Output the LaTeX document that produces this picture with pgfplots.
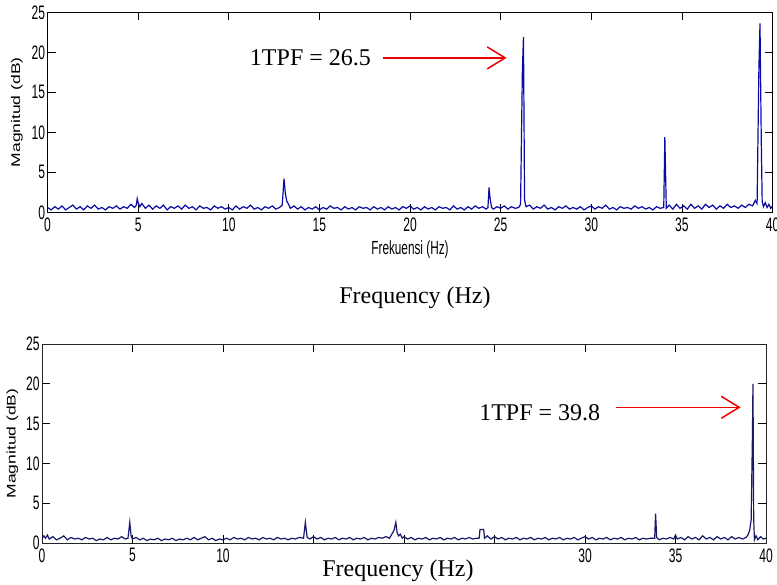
\documentclass[border=0pt]{standalone}
\usepackage{fontspec}
\setmainfont{Liberation Serif}
\newfontfamily\tickfont[FakeStretch=0.62]{Liberation Sans}
\newfontfamily\ylabfont[FakeStretch=1.4]{Liberation Sans}
\usepackage{pgfplots}
\pgfplotsset{compat=1.18}
\usetikzlibrary{arrows.meta}
\definecolor{toplin}{RGB}{10,10,165}
\definecolor{botlin}{RGB}{25,25,105}
\definecolor{arrred}{RGB}{240,0,0}

\pgfplotsset{
  spec/.style={
    scale only axis,
    width=725bp, height=200bp,
    xmin=0, xmax=40, ymin=0, ymax=25,
    xtick={0,5,...,40}, ytick={0,5,...,25},
    tick align=inside,
    major tick length=8bp,
    axis line style={line width=0.8bp},
    every tick/.style={black, line width=0.7bp},
    tick label style={font=\fontsize{19.5bp}{19.5bp}\tickfont},
    /pgf/number format/assume math mode=true,
    xticklabel style={yshift=-2bp},
    yticklabel style={xshift=1bp},
    ylabel style={font=\fontsize{12.5bp}{12.5bp}\ylabfont},
    xlabel style={font=\fontsize{19bp}{19bp}\tickfont},
  }
}

\begin{document}
\begin{tikzpicture}
\path[use as bounding box] (0,0) rectangle (777bp,-585bp);

% upper spectrum
\begin{axis}[spec, at={(47.5bp,-212.3bp)}, anchor=south west,
  ylabel={Magnitud (dB)}, ylabel style={yshift=2bp},
  xlabel={Frekuensi (Hz)}, xlabel style={yshift=-2bp}]
\addplot[toplin, line width=1.2bp] coordinates {
(0.0,0.6) (0.2,0.3) (0.4,0.7) (0.6,0.4) (0.8,0.8) (1.0,0.3) (1.2,0.6) (1.4,0.9)
(1.6,0.4) (1.8,0.7) (2.0,0.3) (2.2,0.8) (2.4,0.5) (2.6,0.9) (2.8,0.4) (3.0,0.6)
(3.2,0.3) (3.4,0.7) (3.6,0.5) (3.8,0.8) (4.0,0.4) (4.2,0.7) (4.4,0.5) (4.6,1.0)
(4.8,0.6) (4.9,0.9) (4.95,1.7) (5.0,1.2) (5.1,0.7) (5.2,1.1) (5.4,0.5) (5.6,0.9)
(5.8,0.4) (6.0,0.8) (6.2,0.5) (6.4,0.9) (6.6,0.3) (6.8,0.7) (7.0,0.5) (7.2,0.8)
(7.4,0.4) (7.6,0.9) (7.8,0.5) (8.0,0.7) (8.2,0.3) (8.4,0.8) (8.6,0.5) (8.8,0.6)
(9.0,0.3) (9.2,0.8) (9.4,0.5) (9.6,0.7) (9.8,0.4) (10.0,0.6) (10.2,0.3) (10.4,0.8)
(10.6,0.4) (10.8,0.7) (11.0,0.5) (11.2,0.9) (11.4,0.4) (11.6,0.6) (11.8,0.3) (12.0,0.7)
(12.2,0.5) (12.4,0.8) (12.6,0.4) (12.8,0.6) (12.95,0.9) (13.05,4.2) (13.12,2.4) (13.2,1.4)
(13.3,1.0) (13.4,0.5) (13.6,0.8) (13.8,0.4) (14.0,0.7) (14.2,0.3) (14.4,0.6) (14.6,0.4)
(14.8,0.7) (15.0,0.3) (15.2,0.6) (15.4,0.4) (15.6,0.8) (15.8,0.5) (16.0,0.6) (16.2,0.3)
(16.4,0.7) (16.6,0.4) (16.8,0.6) (17.0,0.3) (17.2,0.7) (17.4,0.5) (17.6,0.6) (17.8,0.3)
(18.0,0.7) (18.2,0.4) (18.4,0.6) (18.6,0.3) (18.8,0.7) (19.0,0.4) (19.2,0.6) (19.4,0.3)
(19.6,0.7) (19.8,0.5) (20.0,0.8) (20.2,0.4) (20.4,0.6) (20.6,0.3) (20.8,0.7) (21.0,0.4)
(21.2,0.6) (21.4,0.3) (21.6,0.7) (21.8,0.5) (22.0,0.6) (22.2,0.3) (22.4,0.8) (22.6,0.4)
(22.8,0.6) (23.0,0.3) (23.2,0.7) (23.4,0.4) (23.6,0.8) (23.8,0.5) (24.0,0.7) (24.2,0.4)
(24.3,0.6) (24.36,3.1) (24.42,1.7) (24.5,0.6) (24.6,0.4) (24.8,0.7) (25.0,0.5) (25.2,0.8)
(25.4,0.4) (25.6,0.7) (25.8,0.5) (26.0,0.6) (26.1,1.0) (26.2,17.7) (26.26,21.9) (26.32,1.6)
(26.4,0.7) (26.6,0.9) (26.8,0.4) (27.0,0.7) (27.2,0.5) (27.4,0.9) (27.6,0.4) (27.8,0.6)
(28.0,0.3) (28.2,0.7) (28.4,0.5) (28.6,0.8) (28.8,0.4) (29.0,0.6) (29.2,0.4) (29.4,0.7)
(29.6,0.3) (29.8,0.6) (30.0,0.8) (30.2,0.4) (30.4,0.7) (30.6,0.5) (30.8,0.9) (31.0,0.4)
(31.2,0.6) (31.4,0.3) (31.6,0.7) (31.8,0.5) (32.0,0.6) (32.2,0.4) (32.4,0.8) (32.6,0.5)
(32.8,0.7) (33.0,0.4) (33.2,0.6) (33.4,0.3) (33.6,0.7) (33.8,0.5) (34.0,0.6) (34.06,9.4)
(34.1,5.0) (34.14,0.5) (34.3,0.9) (34.5,0.4) (34.7,1.0) (34.9,0.5) (35.1,0.8) (35.3,0.4)
(35.5,1.0) (35.7,0.5) (35.9,0.8) (36.1,0.4) (36.3,1.0) (36.5,0.6) (36.7,0.9) (36.9,0.4)
(37.1,0.8) (37.3,0.5) (37.5,1.0) (37.7,0.6) (37.9,0.8) (38.1,0.5) (38.3,0.9) (38.5,0.6)
(38.7,1.0) (38.9,0.8) (39.05,1.5) (39.15,1.1) (39.25,18.1) (39.31,23.6) (39.38,9.0) (39.43,1.4)
(39.5,0.7) (39.6,1.2) (39.7,0.6) (39.8,1.0) (39.9,0.5) (40.0,0.8)
};
\draw[arrred, line width=1.5bp, -{Straight Barb[length=18bp,width=22bp,line width=1.5bp]}]
  (axis cs:18.49,19.3) -- (axis cs:25.33,19.3)
  node[pos=0, anchor=east, inner sep=0pt, xshift=-11bp, text=black,
       font=\fontsize{24bp}{24bp}\selectfont] {1TPF = 26.5};
\end{axis}

\node[font=\fontsize{24bp}{24bp}\selectfont] at (415bp,-298bp) {Frequency (Hz)};

% lower spectrum
\begin{axis}[spec, at={(42bp,-543bp)}, anchor=south west, width=724bp, height=199bp,
  xticklabels={0,5,10,,,,30,35,40},
  ylabel={Magnitud (dB)}, ylabel style={yshift=1bp},
  axis line style={black!85}]
\addplot[botlin, line width=1.2bp] coordinates {
(0.0,0.5) (0.1,0.9) (0.2,0.6) (0.3,1.0) (0.4,0.5) (0.6,0.8) (0.8,0.4) (1.0,0.6)
(1.2,0.9) (1.4,0.4) (1.6,0.7) (1.8,0.5) (2.0,0.6) (2.2,0.4) (2.4,0.7) (2.6,0.5)
(2.8,0.6) (3.0,0.3) (3.2,0.5) (3.4,0.4) (3.6,0.7) (3.8,0.4) (4.0,0.6) (4.2,0.5)
(4.4,0.8) (4.6,0.5) (4.75,0.6) (4.85,2.6) (4.92,0.9) (5.0,0.5) (5.2,0.7) (5.4,0.4)
(5.6,0.6) (5.8,0.3) (6.0,0.5) (6.2,0.4) (6.4,0.6) (6.6,0.3) (6.8,0.5) (7.0,0.4)
(7.2,0.6) (7.4,0.3) (7.6,0.5) (7.8,0.4) (8.0,0.6) (8.2,0.4) (8.4,0.7) (8.6,0.4)
(8.8,0.6) (9.0,0.8) (9.2,0.4) (9.4,0.6) (9.6,0.3) (9.8,0.5) (10.0,0.4) (10.2,0.6)
(10.4,0.4) (10.6,0.7) (10.8,0.5) (11.0,0.6) (11.2,0.4) (11.4,0.7) (11.6,0.5) (11.8,0.6)
(12.0,0.4) (12.2,0.7) (12.4,0.5) (12.6,0.6) (12.8,0.4) (13.0,0.7) (13.2,0.5) (13.4,0.6)
(13.6,0.4) (13.8,0.6) (14.0,0.5) (14.2,0.7) (14.45,0.6) (14.55,2.6) (14.65,0.7) (14.8,0.5)
(15.0,0.8) (15.2,0.5) (15.4,0.7) (15.6,0.4) (15.8,0.6) (16.0,0.5) (16.2,0.7) (16.4,0.4)
(16.6,0.6) (16.8,0.5) (17.0,0.7) (17.2,0.4) (17.4,0.6) (17.6,0.5) (17.8,0.7) (18.0,0.4)
(18.2,0.6) (18.4,0.5) (18.6,0.7) (18.8,0.6) (19.0,0.8) (19.2,0.6) (19.3,1.0) (19.45,1.6)
(19.55,2.6) (19.62,1.3) (19.7,0.9) (19.8,1.1) (19.9,0.6) (20.0,0.8) (20.2,0.5) (20.4,0.7)
(20.6,0.4) (20.8,0.6) (21.0,0.5) (21.2,0.7) (21.4,0.4) (21.6,0.6) (21.8,0.5) (22.0,0.7)
(22.2,0.4) (22.4,0.6) (22.6,0.5) (22.8,0.7) (23.0,0.4) (23.2,0.6) (23.4,0.5) (23.6,0.7)
(23.8,0.5) (24.0,0.6) (24.15,0.6) (24.2,1.7) (24.4,1.7) (24.45,0.6) (24.6,0.9) (24.8,0.5)
(25.0,0.8) (25.2,0.5) (25.4,0.7) (25.6,0.4) (25.8,0.6) (26.0,0.5) (26.2,0.7) (26.4,0.4)
(26.6,0.6) (26.8,0.5) (27.0,0.7) (27.2,0.4) (27.4,0.6) (27.6,0.5) (27.8,0.7) (28.0,0.4)
(28.2,0.6) (28.4,0.5) (28.6,0.7) (28.8,0.4) (29.0,0.6) (29.2,0.5) (29.4,0.7) (29.6,0.4)
(29.8,0.6) (30.0,0.8) (30.2,0.5) (30.4,0.7) (30.6,0.4) (30.8,0.6) (31.0,0.5) (31.2,0.7)
(31.4,0.4) (31.6,0.6) (31.8,0.5) (32.0,0.7) (32.2,0.4) (32.4,0.6) (32.6,0.5) (32.8,0.7)
(33.0,0.4) (33.2,0.6) (33.4,0.5) (33.6,0.6) (33.85,0.6) (33.9,3.7) (33.96,0.7) (34.1,0.4)
(34.3,0.6) (34.5,0.5) (34.7,0.7) (34.9,0.5) (35.0,1.0) (35.1,0.5) (35.3,0.7) (35.5,0.4)
(35.7,0.8) (35.9,0.5) (36.1,0.7) (36.3,0.4) (36.5,0.9) (36.7,0.5) (36.9,0.7) (37.1,0.4)
(37.3,0.8) (37.5,0.5) (37.7,0.7) (37.9,0.4) (38.1,0.8) (38.3,0.5) (38.5,0.7) (38.7,0.5)
(38.9,0.7) (39.0,1.0) (39.1,1.6) (39.18,2.9) (39.25,13.5) (39.28,20.0) (39.32,3.0) (39.36,0.4)
(39.45,0.9) (39.55,0.4) (39.7,0.8) (39.85,0.5) (40.0,0.6)
};
\draw[arrred, line width=1.5bp, -{Straight Barb[length=18bp,width=22bp,line width=1.5bp]}]
  (axis cs:31.71,17.05) -- (axis cs:38.6,17.05)
  node[pos=0, anchor=east, inner sep=0pt, xshift=-15bp, yshift=-5bp, text=black,
       font=\fontsize{24bp}{24bp}\selectfont] {1TPF = 39.8};
\end{axis}

\node[font=\fontsize{24bp}{24bp}\selectfont] at (398bp,-571bp) {Frequency (Hz)};
\end{tikzpicture}
\end{document}
